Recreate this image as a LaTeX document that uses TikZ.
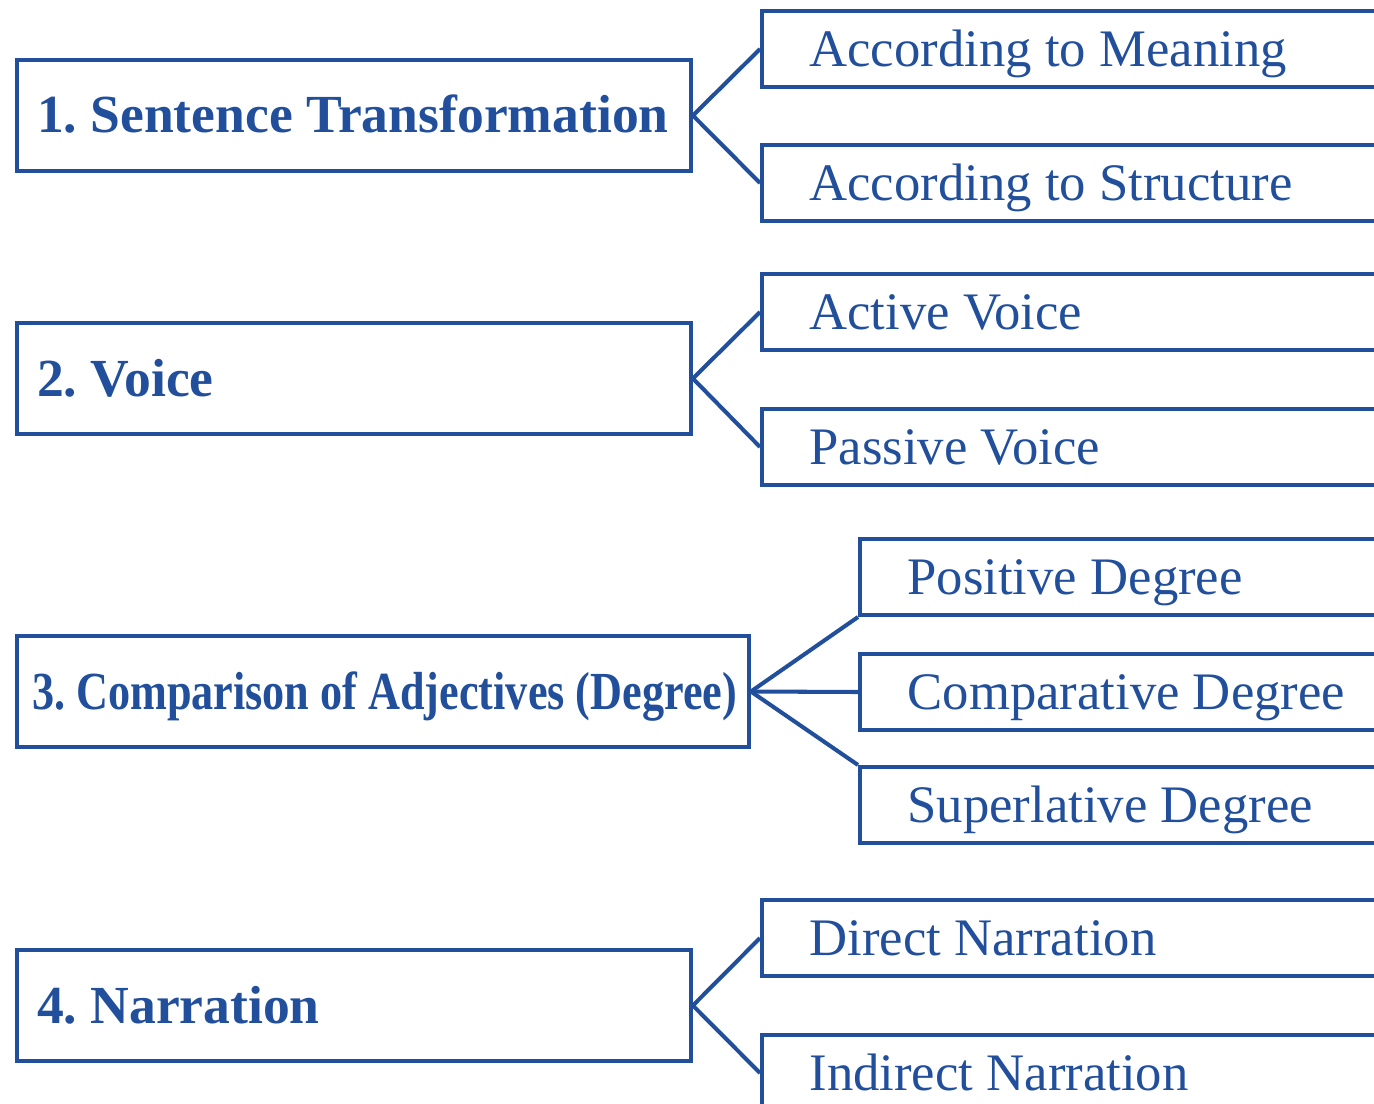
\documentclass[tikz,border=0pt]{standalone}
\usepackage{fontspec}
\setmainfont{Liberation Serif}
\usepackage{tikz}
\usetikzlibrary{positioning}
\definecolor{navy}{RGB}{33,79,155}
\newcommand{\boxtext}[2]{\makebox[#1][l]{#2}}
\tikzset{topic/.style={draw=navy,line width=2.3pt,anchor=north west,text=navy,
minimum height=2.22cm,text height=0.7cm,text depth=0pt,inner xsep=0.4cm,
font=\fontsize{30.5}{36}\selectfont\bfseries\frenchspacing},
sub/.style={draw=navy,line width=2.3pt,anchor=north west,text=navy,
minimum height=1.52cm,text height=0.7cm,text depth=0pt,inner xsep=0.95cm,
font=\fontsize{30}{36}\selectfont\frenchspacing}}
\tikzstyle{link} = [draw=navy,line width=2.3pt]

\begin{document}
\begin{tikzpicture}[x=0.02cm,y=-0.02cm]
		\useasboundingbox (0,0) rectangle (1374,1104);
		% left column
		\node[topic] (st) at (15,58) {\boxtext{12.68cm}{1. Sentence Transformation}};
		\node[topic] (voice) at (15,321) {\boxtext{12.68cm}{2. Voice}};
		\node[topic,inner xsep=0.3cm] (comp) at (15,634) {\boxtext{14.04cm}{\scalebox{0.825}[1]{3. Comparison of Adjectives (Degree)}}};
		\node[topic] (narr) at (15,948) {\boxtext{12.68cm}{4. Narration}};
		% right column
		\node[sub] (mean) at (760,9) {\boxtext{10.9cm}{According to Meaning}};
		\node[sub] (struct) at (760,143) {\boxtext{10.9cm}{According to Structure}};
		\node[sub] (act) at (760,272) {\boxtext{10.9cm}{Active Voice}};
		\node[sub] (pass) at (760,407) {\boxtext{10.9cm}{Passive Voice}};
		\node[sub] (pos) at (858,537) {\boxtext{10.9cm}{Positive Degree}};
		\node[sub] (compar) at (858,652) {\boxtext{10.9cm}{Comparative Degree}};
		\node[sub] (sup) at (858,765) {\boxtext{10.9cm}{Superlative Degree}};
		\node[sub] (direct) at (760,898) {\boxtext{10.9cm}{Direct Narration}};
		\node[sub] (indirect) at (760,1033) {\boxtext{10.9cm}{Indirect Narration}};
		% links
		\draw[link] (mean.west) -- (st.east) -- (struct.west);
		\draw[link] (act.west) -- (voice.east) -- (pass.west);
		\draw[link] (pos.south west) -- (comp.east) -- (sup.north west);
		\draw[link] (comp.east) -- (compar.west);
		\draw[link] (direct.west) -- (narr.east) -- (indirect.west);
	\end{tikzpicture}
\end{document}
